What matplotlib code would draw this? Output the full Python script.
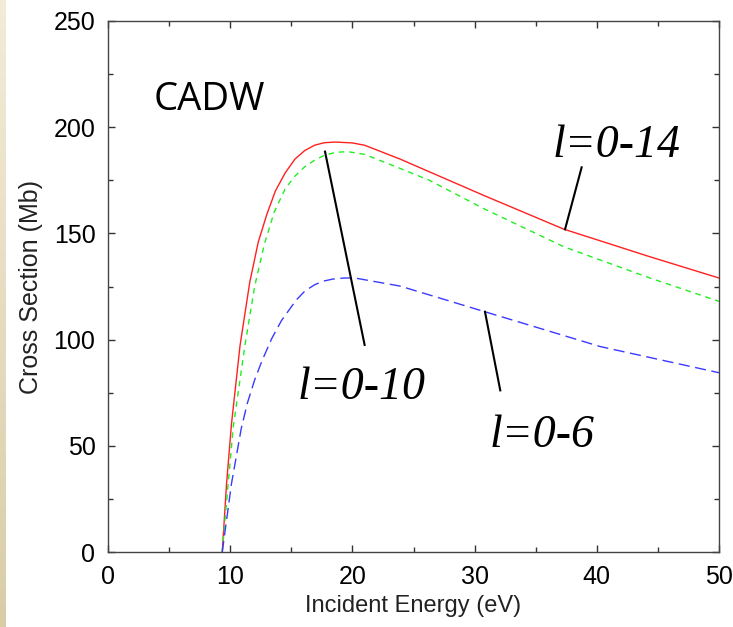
import numpy as np
import matplotlib.pyplot as plt

# values
RED_X = [9.35, 9.7, 10.1, 10.8, 11.6, 12.3, 13.0, 13.7, 14.5, 15.3, 16.1, 16.9, 17.7, 18.6, 20.0, 21.0, 23.9, 26.3, 30.7, 37.3, 44.35, 50.0]
RED_Y = [0, 32, 60, 97, 127, 146, 159, 170, 178.5, 185, 189, 191.5, 192.7, 193, 192.6, 191.5, 185, 179, 168, 152, 139, 129]

GREEN_X = [9.35, 9.8, 10.25, 11.2, 12.0, 12.8, 13.6, 14.5, 15.3, 16.1, 17.0, 17.8, 18.7, 19.6, 21.0, 23.9, 26.3, 30.7, 37.3, 44.35, 50.0]
GREEN_Y = [0, 30, 59, 97, 125, 145, 160, 171, 177, 181.4, 184.8, 187, 188.2, 188.5, 187.2, 180.6, 175, 161.8, 143.7, 129, 118]

BLUE_X = [9.35, 10.1, 10.9, 11.4, 12.0, 12.6, 13.4, 14.2, 15.4, 16.1, 16.9, 17.6, 18.4, 19.3, 20.2, 23.9, 30.85, 40.3, 50.0]
BLUE_Y = [0, 32, 58, 70, 81, 90, 100.5, 109, 118.6, 122.8, 125.8, 127.5, 128.5, 129, 129, 125.2, 113.1, 96.7, 84.4]

X_TICKS = [0, 10, 20, 30, 40, 50]
Y_TICKS = [0, 50, 100, 150, 200, 250]

# annotation pointers: (label, text pos, line start, line end)
ANNOTATIONS = [
    ("l=0-14", (36.4, 186), (38.76, 181.1), (37.4, 151.9)),
    ("l=0-10", (15.5, 71.9), (17.76, 188.5), (21.0, 97.5)),
    ("l=0-6", (31.2, 49.4), (30.85, 113.1), (32.1, 76.1)),
]

fig = plt.figure(figsize=(7.33, 6.27), dpi=100)

# beige strip at the left edge of the slide
strip = fig.add_axes([0, 0, 6 / 733, 1])
grad = np.linspace(0, 1, 256).reshape(-1, 1)
strip.imshow(grad, aspect="auto", cmap=plt.matplotlib.colors.LinearSegmentedColormap.from_list(
    "beige", ["#F2ECD8", "#D9CDA8"]), extent=[0, 1, 0, 1], origin="upper")
strip.axis("off")

ax = fig.add_axes([108 / 733, 1 - 552 / 627, (719 - 108) / 733, (552 - 21) / 627])

ax.plot(RED_X, RED_Y, color="#FF2020", linewidth=1.0, solid_joinstyle="round")
ax.plot(GREEN_X, GREEN_Y, color="#22EE22", linewidth=1.0, dashes=(4, 3.5))
ax.plot(BLUE_X, BLUE_Y, color="#3A3AFF", linewidth=1.0, dashes=(8, 4))

for label, tpos, p0, p1 in ANNOTATIONS:
    ax.plot([p0[0], p1[0]], [p0[1], p1[1]], color="black", linewidth=1.5)
    ax.text(tpos[0], tpos[1], label, fontsize=33, family="Liberation Serif",
            style="italic", ha="left", va="baseline")

ax.text(3.7, 212.8, "CADW", fontsize=27.5, family="Open Sans", ha="left", va="center")

ax.set_xlim(0, 50)
ax.set_ylim(0, 250)
ax.set_xticks(X_TICKS)
ax.set_yticks(Y_TICKS)
ax.set_xticks(np.arange(5, 50, 10), minor=True)
ax.set_yticks(np.arange(25, 250, 50), minor=True)
ax.tick_params(which="both", direction="in", top=True, right=True, color="#333333",
               labelsize=18, pad=9, labelfontfamily="Liberation Sans")
ax.tick_params(which="major", length=5, width=1)
ax.tick_params(which="minor", length=3.5, width=1)
for s in ax.spines.values():
    s.set_color("#444444")
    s.set_linewidth(1.0)

ax.set_xlabel("Incident Energy (eV)", fontsize=17, family="Liberation Sans", color="#222222", labelpad=5)
ax.set_ylabel("Cross Section (Mb)", fontsize=18, family="Liberation Sans", color="#222222", labelpad=8)

fig.savefig("out.png", dpi=100)
